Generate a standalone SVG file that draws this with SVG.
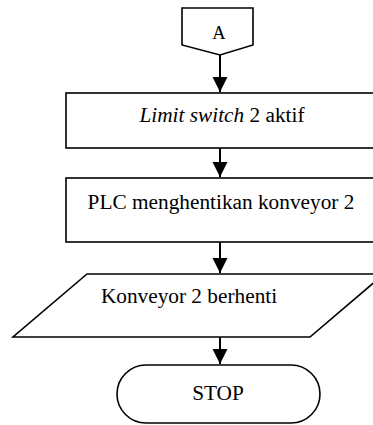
<svg xmlns="http://www.w3.org/2000/svg" width="373" height="425" viewBox="0 0 373 425">
<style>
.s{fill:#fff;stroke:#000;stroke-width:1.6}
.c{stroke:#000;stroke-width:2;fill:none}
text{font-family:"Liberation Serif","Times New Roman",serif;font-size:21.3px;fill:#000;text-anchor:middle}
</style>
<defs>
<marker id="ah" markerUnits="userSpaceOnUse" markerWidth="16" markerHeight="16" refX="15" refY="7.5" orient="auto">
<path d="M0,0 L15,7.5 L0,15 Z" fill="#000"/>
</marker>
</defs>
<rect width="373" height="425" fill="#fff"/>
<g id="connectors">
<line class="c" x1="220" y1="55" x2="220" y2="92" marker-end="url(#ah)"/>
<line class="c" x1="220" y1="148" x2="220" y2="177" marker-end="url(#ah)"/>
<line class="c" x1="220" y1="242" x2="220" y2="273" marker-end="url(#ah)"/>
<line class="c" x1="220" y1="337" x2="220" y2="364" marker-end="url(#ah)"/>
</g>
<g id="connA">
<polygon class="s" points="182,8 253,8 253,45 220,55 182,45"/>
<text x="219" y="39" style="font-size:18.5px">A</text>
</g>
<g id="box1">
<rect class="s" x="66" y="93" width="310" height="55"/>
<text x="222" y="122"><tspan font-style="italic">Limit switch</tspan> 2 aktif</text>
</g>
<g id="box2">
<rect class="s" x="66" y="178" width="310" height="64"/>
<text x="221" y="209">PLC menghentikan konveyor 2</text>
</g>
<g id="io">
<polygon class="s" points="87,274 384,274 310,337 13,337"/>
<text x="189" y="303">Konveyor 2 berhenti</text>
</g>
<g id="stop">
<rect class="s" x="117" y="365" width="203" height="58" rx="29" ry="29"/>
<text x="218" y="400">STOP</text>
</g>
</svg>
